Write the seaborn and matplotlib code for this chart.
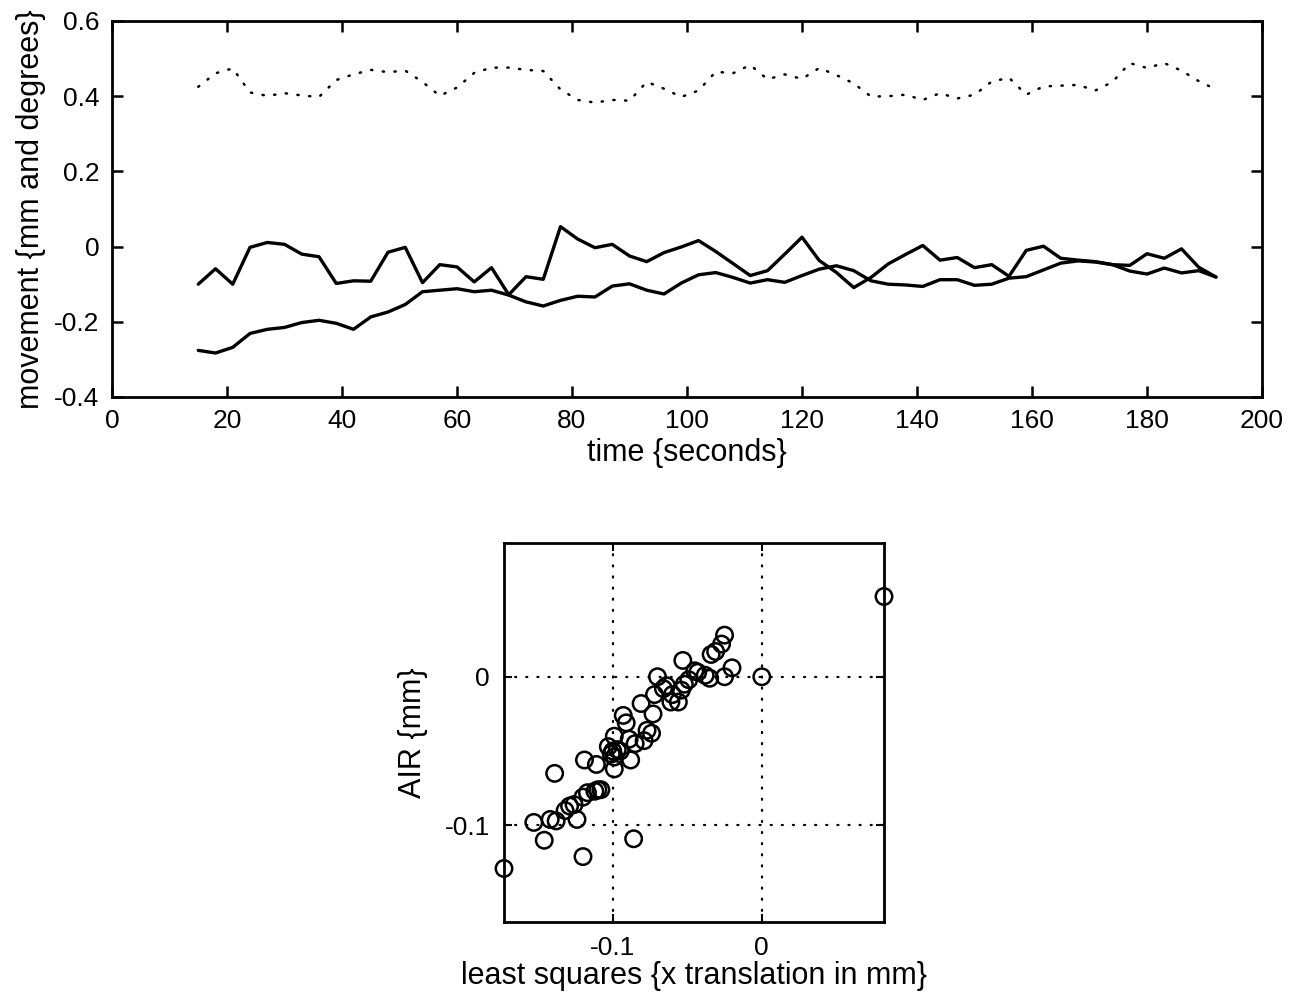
import matplotlib
matplotlib.use("Agg")
import matplotlib.pyplot as plt
import seaborn as sns
import numpy as np
import pandas as pd

# ---------------- data ----------------
time_s = [15, 18, 21, 24, 27, 30, 33, 36, 39, 42, 45, 48, 51, 54, 57, 60, 63, 66, 69, 72,
          75, 78, 81, 84, 87, 90, 93, 96, 99, 102, 105, 108, 111, 114, 117, 120, 123, 126, 129, 132,
          135, 138, 141, 144, 147, 150, 153, 156, 159, 162, 165, 168, 171, 174, 177, 180, 183, 186, 189, 192]

rotation_dotted = [0.425, 0.461, 0.474, 0.410, 0.401, 0.408, 0.402, 0.398, 0.443, 0.458,
                   0.470, 0.464, 0.468, 0.438, 0.401, 0.423, 0.462, 0.476, 0.476, 0.470,
                   0.467, 0.418, 0.390, 0.383, 0.390, 0.388, 0.438, 0.420, 0.398, 0.415,
                   0.465, 0.461, 0.483, 0.445, 0.458, 0.446, 0.475, 0.456, 0.434, 0.399,
                   0.400, 0.404, 0.390, 0.408, 0.394, 0.404, 0.439, 0.449, 0.404, 0.426,
                   0.428, 0.430, 0.415, 0.438, 0.488, 0.475, 0.488, 0.468, 0.440, 0.418]

move_a = [-0.100, -0.059, -0.100, -0.002, 0.011, 0.006, -0.020, -0.027, -0.098, -0.091,
          -0.092, -0.015, -0.002, -0.096, -0.048, -0.054, -0.094, -0.056, -0.128, -0.080,
          -0.087, 0.053, 0.020, -0.003, 0.006, -0.025, -0.040, -0.016, -0.001, 0.016,
          -0.013, -0.045, -0.077, -0.064, -0.020, 0.025, -0.037, -0.069, -0.109, -0.082,
          -0.046, -0.021, 0.003, -0.036, -0.029, -0.056, -0.048, -0.079, -0.010, 0.001,
          -0.031, -0.036, -0.040, -0.048, -0.050, -0.019, -0.031, -0.006, -0.055, -0.081]

move_b = [-0.276, -0.283, -0.268, -0.231, -0.220, -0.215, -0.202, -0.196, -0.204, -0.220,
          -0.187, -0.174, -0.154, -0.120, -0.116, -0.112, -0.120, -0.116, -0.129, -0.147,
          -0.158, -0.143, -0.132, -0.134, -0.105, -0.099, -0.116, -0.126, -0.097, -0.075,
          -0.069, -0.082, -0.097, -0.088, -0.095, -0.077, -0.060, -0.051, -0.064, -0.091,
          -0.100, -0.102, -0.106, -0.088, -0.088, -0.103, -0.100, -0.084, -0.080, -0.062,
          -0.044, -0.038, -0.041, -0.048, -0.065, -0.073, -0.057, -0.070, -0.064, -0.081]

ls_x = [0.082, 0.000, -0.173, -0.025, -0.027, -0.031, -0.034, -0.020, -0.025, -0.035,
        -0.043, -0.053, -0.045, -0.049, -0.052, -0.054, -0.056, -0.061, -0.064, -0.070,
        -0.066, -0.072, -0.081, -0.073, -0.074, -0.079, -0.077, -0.093, -0.091, -0.089,
        -0.085, -0.099, -0.103, -0.100, -0.101, -0.099, -0.097, -0.099, -0.088, -0.111,
        -0.119, -0.139, -0.108, -0.110, -0.112, -0.117, -0.120, -0.126, -0.129, -0.132,
        -0.138, -0.142, -0.124, -0.153, -0.146, -0.120, -0.086, -0.095, -0.060, -0.038]
air_y = [0.054, 0.000, -0.129, 0.028, 0.022, 0.017, 0.015, 0.006, 0.000, -0.001,
         0.003, 0.011, 0.004, -0.002, -0.005, -0.009, -0.017, -0.017, -0.006, 0.000,
         -0.008, -0.012, -0.018, -0.025, -0.038, -0.043, -0.036, -0.026, -0.031, -0.042,
         -0.045, -0.040, -0.047, -0.050, -0.052, -0.054, -0.049, -0.062, -0.056, -0.059,
         -0.056, -0.065, -0.076, -0.076, -0.077, -0.078, -0.081, -0.086, -0.087, -0.090,
         -0.097, -0.096, -0.096, -0.098, -0.110, -0.121, -0.109, -0.050, -0.012, 0.001]

top_xticks = [0, 20, 40, 60, 80, 100, 120, 140, 160, 180, 200]
top_xticklabels = ["0", "20", "40", "60", "80", "100", "120", "140", "160", "180", "200"]
top_yticks = [-0.4, -0.2, 0, 0.2, 0.4, 0.6]
top_yticklabels = ["-0.4", "-0.2", "0", "0.2", "0.4", "0.6"]
bot_ticks = [-0.1, 0]
bot_ticklabels = ["-0.1", "0"]

# ---------------- style ----------------
sns.set_style("ticks")
plt.rcParams["font.family"] = ["Liberation Sans", "DejaVu Sans"]
plt.rcParams["axes.unicode_minus"] = False
plt.rcParams["text.color"] = "black"
plt.rcParams["axes.labelcolor"] = "black"
FS_TICK = 19
FS_LAB = 22

fig = plt.figure(figsize=(13.06, 10.0), dpi=100)

# ---------------- top panel ----------------
ax1 = fig.add_axes([112 / 1306, 1 - 397 / 1000, (1262 - 112) / 1306, (397 - 21) / 1000])
df = pd.DataFrame({"t": time_s, "dot": rotation_dotted, "a": move_a, "b": move_b})
sns.lineplot(data=df, x="t", y="dot", ax=ax1, color="black", lw=1.8,
             linestyle=(0, (0.5, 4.2)), dash_capstyle="round")
sns.lineplot(data=df, x="t", y="a", ax=ax1, color="black", lw=2.4)
sns.lineplot(data=df, x="t", y="b", ax=ax1, color="black", lw=2.4)

ax1.set_xlim(0, 200)
ax1.set_ylim(-0.4, 0.6)
ax1.set_xticks(top_xticks)
ax1.set_xticklabels(top_xticklabels)
ax1.set_yticks(top_yticks)
ax1.set_yticklabels(top_yticklabels)
ax1.tick_params(direction="in", length=8, width=1.8, labelsize=FS_TICK, top=True, right=True,
                colors="black", pad=9)
ax1.set_xlabel("time {seconds}", fontsize=FS_LAB, labelpad=3, color="black")
ax1.set_ylabel("movement {mm and degrees}", fontsize=FS_LAB, labelpad=6, color="black")
for sp in ax1.spines.values():
    sp.set_linewidth(2.0)
    sp.set_color("black")

# ---------------- bottom panel ----------------
ax2 = fig.add_axes([504 / 1306, 1 - 922 / 1000, (884 - 504) / 1306, (922 - 543) / 1000])
sdf = pd.DataFrame({"ls": ls_x, "air": air_y})
sns.scatterplot(data=sdf, x="ls", y="air", ax=ax2, marker="o", s=140,
                facecolor="none", edgecolor="black", linewidth=1.8, clip_on=False, zorder=3)

xmin, xmax = min(ls_x), max(ls_x)
span = xmax - xmin
yc = (min(air_y) + max(air_y)) / 2
ax2.set_xlim(xmin, xmax)
ax2.set_ylim(yc - span / 2, yc + span / 2)
ax2.set_xticks(bot_ticks)
ax2.set_xticklabels(bot_ticklabels)
ax2.set_yticks(bot_ticks)
ax2.set_yticklabels(bot_ticklabels)
ax2.grid(True, color="black", linestyle=(0, (0.5, 4.5)), linewidth=1.6, dash_capstyle="round")
ax2.tick_params(direction="in", length=6, width=1.5, labelsize=FS_TICK, top=True, right=True,
                colors="black", pad=10)
ax2.set_xlabel("least squares {x translation in mm}", fontsize=FS_LAB, labelpad=1, color="black")
ax2.set_ylabel("AIR {mm}", fontsize=FS_LAB, labelpad=12, color="black")
for sp in ax2.spines.values():
    sp.set_linewidth(2.0)
    sp.set_color("black")

fig.savefig("out.png", dpi=100, facecolor="white")
